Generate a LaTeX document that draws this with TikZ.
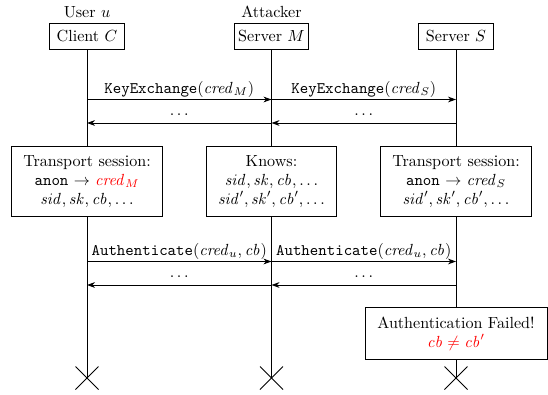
\documentclass[tikz,border=0pt]{standalone}
\usetikzlibrary{arrows.meta}
\begin{document}
\begin{tikzpicture}[x=0.621pt,y=-0.621pt,
  actor/.style={draw,line width=0.6pt,minimum width=46pt,minimum height=16.2pt,inner sep=2pt},
  infobox/.style={draw,line width=0.6pt,fill=white,align=center,minimum height=44pt,inner sep=2pt},
  life/.style={line width=0.6pt},
  msg/.style={line width=0.6pt,-{Stealth[length=5pt,width=3.6pt]}},
  lbl/.style={anchor=base,inner sep=0pt,yshift=3.8pt},
  dlbl/.style={anchor=base,inner sep=0pt,yshift=4.6pt},
  xmark/.style={line width=0.6pt}]
\useasboundingbox (0,0) rectangle (548,395);
% actors
\node[anchor=base,inner sep=0pt] (uu) at (87,17.3) {User $u$};
\node[anchor=base,inner sep=0pt] (att) at (271.5,17.3) {Attacker};
\node[actor] (C) at (87,36.3) {Client $C$};
\node[actor] (M) at (271.5,36.3) {Server $M$};
\node[actor] (S) at (456,36.3) {Server $S$};
% ends
\coordinate (eC) at (87,378);
\coordinate (eM) at (271.5,378);
\coordinate (eS) at (456,378);
\draw[life] (C.south) -- (eC);
\draw[life] (M.south) -- (eM);
\draw[life] (S.south) -- (eS);
\foreach \e in {eC,eM,eS}{
  \draw[xmark] ([shift={(-11.5,-11.5)}]\e) -- ([shift={(11.5,11.5)}]\e);
  \draw[xmark] ([shift={(-11.5,11.5)}]\e) -- ([shift={(11.5,-11.5)}]\e);
}
% message points
\coordinate (c1) at (87,99.5);  \coordinate (m1) at (271.5,99.5);  \coordinate (s1) at (456,99.5);
\coordinate (c2) at (87,123);  \coordinate (m2) at (271.5,123);  \coordinate (s2) at (456,123);
\coordinate (c3) at (87,261.5);  \coordinate (m3) at (271.5,261.5);  \coordinate (s3) at (456,261.5);
\coordinate (c4) at (87,285);  \coordinate (m4) at (271.5,285);  \coordinate (s4) at (456,285);
\draw[msg] (c1) -- (m1) node[midway,lbl] {\texttt{KeyExchange}($\mathit{cred}_M$)};
\draw[msg] (m1) -- (s1) node[midway,lbl] {\texttt{KeyExchange}($\mathit{cred}_S$)};
\draw[msg] (s2) -- (m2) node[midway,dlbl] {$\dots$};
\draw[msg] (m2) -- (c2) node[midway,dlbl] {$\dots$};
% info boxes
\node[infobox,minimum width=94pt] (tC) at (87,181.5) {Transport session:\\ \texttt{anon} $\to$ \textcolor{red}{$\mathit{cred}_M$}\\ $\mathit{sid}, \mathit{sk}, \mathit{cb}, \dots$};
\node[infobox,minimum width=81pt] (kM) at (271.5,181.5) {Knows:\\ $\mathit{sid}, \mathit{sk}, \mathit{cb}, \dots$\\ $\mathit{sid}', \mathit{sk}', \mathit{cb}', \dots$};
\node[infobox,minimum width=94pt] (tS) at (456,181.5) {Transport session:\\ \texttt{anon} $\to$ $\mathit{cred}_S$\\ $\mathit{sid}', \mathit{sk}', \mathit{cb}', \dots$};
\draw[msg] (c3) -- (m3) node[midway,lbl] {\texttt{Authenticate}($\mathit{cred}_u, \mathit{cb}$)};
\draw[msg] (m3) -- (s3) node[midway,lbl] {\texttt{Authenticate}($\mathit{cred}_u, \mathit{cb}$)};
\draw[msg] (s4) -- (m4) node[midway,dlbl] {$\dots$};
\draw[msg] (m4) -- (c4) node[midway,dlbl] {$\dots$};
\node[infobox,minimum width=113pt,minimum height=31.7pt] (fail) at (456,333.5) {Authentication Failed!\\ \textcolor{red}{$\mathit{cb} \neq \mathit{cb}'$}};
\end{tikzpicture}
\end{document}
